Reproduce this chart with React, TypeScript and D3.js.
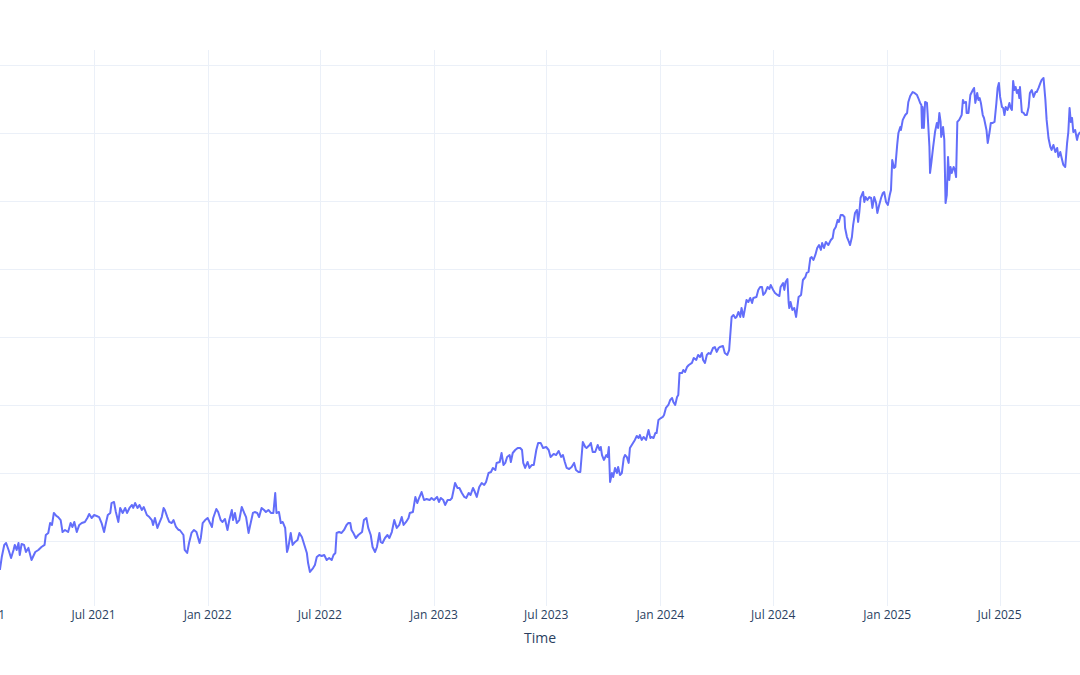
import React from "react";
import * as d3 from "d3";

// ---- data ----
const dates2021 = [
  "2021-01-31","2021-02-03","2021-02-07","2021-02-10","2021-02-14","2021-02-18","2021-02-22","2021-02-24","2021-02-27","2021-03-02",
  "2021-03-04","2021-03-07","2021-03-11","2021-03-14","2021-03-18","2021-03-23","2021-03-29","2021-04-03","2021-04-08","2021-04-13",
  "2021-04-15","2021-04-19","2021-04-22","2021-04-25","2021-04-28","2021-05-02","2021-05-05","2021-05-09","2021-05-12","2021-05-16",
  "2021-05-21","2021-05-25","2021-05-28","2021-05-31","2021-06-04","2021-06-08","2021-06-12","2021-06-17","2021-06-21","2021-06-24",
  "2021-06-28","2021-07-02","2021-07-06","2021-07-10","2021-07-14","2021-07-18","2021-07-21","2021-07-24","2021-07-28","2021-07-30",
  "2021-08-03","2021-08-06","2021-08-10","2021-08-13","2021-08-17","2021-08-21","2021-08-24","2021-08-28","2021-09-01","2021-09-03",
  "2021-09-06","2021-09-10","2021-09-13","2021-09-17","2021-09-20","2021-09-25","2021-09-29","2021-10-03","2021-10-05","2021-10-08",
  "2021-10-12","2021-10-15","2021-10-19","2021-10-22","2021-10-24","2021-10-28","2021-10-31","2021-11-04","2021-11-07","2021-11-11",
  "2021-11-15","2021-11-17","2021-11-23","2021-11-25","2021-11-29","2021-12-02","2021-12-06","2021-12-10","2021-12-14","2021-12-19",
  "2021-12-21","2021-12-24","2021-12-28"
];
const values2021 = [
  28.7,38.2,47.1,48.5,43.4,37.5,43.4,47.1,43.4,48.5,
  39.7,47.8,47.1,41.9,44.9,36.0,41.9,43.4,45.6,47.1,
  54.4,55.9,63.2,61.8,70.6,68.4,67.6,65.4,56.6,58.1,
  56.6,63.2,60.3,64.0,56.6,61.8,63.2,64.0,66.9,69.9,
  66.9,69.1,68.4,67.6,63.2,56.6,63.2,69.1,70.6,77.9,
  78.7,71.3,64.0,74.3,70.6,74.3,70.6,74.3,76.5,74.3,
  77.9,74.3,76.5,72.8,75.0,69.1,67.6,65.4,61.8,66.9,
  59.6,63.2,67.6,74.3,72.8,67.6,64.0,63.2,65.4,60.3,
  58.1,58.1,54.4,43.4,41.2,48.5,55.9,58.1,56.6,48.5,
  52.2,63.2,65.4
];

const dates2022 = [
  "2022-01-01","2022-01-04","2022-01-08","2022-01-10","2022-01-15","2022-01-18","2022-01-22","2022-01-25","2022-01-29","2022-02-02",
  "2022-02-05","2022-02-09","2022-02-11","2022-02-14","2022-02-17","2022-02-21","2022-02-25","2022-03-01","2022-03-04","2022-03-08",
  "2022-03-10","2022-03-15","2022-03-18","2022-03-22","2022-03-25","2022-03-29","2022-04-02","2022-04-05","2022-04-09","2022-04-13",
  "2022-04-17","2022-04-20","2022-04-22","2022-04-26","2022-04-29","2022-05-02","2022-05-06","2022-05-09","2022-05-11","2022-05-15",
  "2022-05-18","2022-05-22","2022-05-26","2022-05-29","2022-06-02","2022-06-06","2022-06-10","2022-06-12","2022-06-15","2022-06-20",
  "2022-06-23","2022-06-26","2022-06-30","2022-07-04","2022-07-08","2022-07-12","2022-07-16","2022-07-20","2022-07-23","2022-07-26",
  "2022-07-28","2022-08-01","2022-08-05","2022-08-09","2022-08-13","2022-08-16","2022-08-19","2022-08-21","2022-08-24","2022-08-28",
  "2022-09-01","2022-09-07","2022-09-10","2022-09-14","2022-09-17","2022-09-21","2022-09-24","2022-09-28","2022-10-01","2022-10-05",
  "2022-10-07","2022-10-10","2022-10-14","2022-10-18","2022-10-21","2022-10-25","2022-10-29","2022-11-02","2022-11-06","2022-11-10",
  "2022-11-13","2022-11-17","2022-11-21","2022-11-23","2022-11-28","2022-12-02","2022-12-05","2022-12-08","2022-12-12","2022-12-16",
  "2022-12-20","2022-12-25","2022-12-28"
];
const values2022 = [
  66.9,64.0,60.3,66.9,73.5,71.3,65.4,64.0,66.2,58.1,
  65.4,72.8,65.4,70.6,63.2,65.4,75.0,70.6,67.6,55.9,
  60.3,70.6,71.3,70.6,67.6,74.3,72.8,71.3,72.8,70.6,
  70.6,85.3,70.6,71.3,63.2,64.0,59.6,41.9,44.9,55.9,
  47.1,49.3,50.7,55.9,52.9,47.1,41.2,33.8,27.2,30.1,
  32.4,38.2,39.7,39.0,39.7,36.0,37.5,36.0,39.7,41.2,
  55.9,56.6,55.9,58.1,61.8,63.2,63.2,58.1,55.9,52.2,
  54.4,56.6,65.4,66.9,59.6,54.4,45.6,41.9,45.6,55.9,
  49.3,48.5,52.2,54.4,52.2,56.6,65.4,59.6,61.8,67.6,
  61.8,64.0,66.9,70.6,71.3,82.4,77.9,81.6,86.0,80.1,
  80.9,80.1,81.6
];

const dates2023 = [
  "2023-01-01","2023-01-06","2023-01-09","2023-01-12","2023-01-16","2023-01-19","2023-01-23","2023-01-27","2023-01-30","2023-02-04",
  "2023-02-08","2023-02-11","2023-02-15","2023-02-19","2023-02-22","2023-02-26","2023-03-01","2023-03-05","2023-03-08","2023-03-11",
  "2023-03-15","2023-03-19","2023-03-23","2023-03-26","2023-03-30","2023-04-03","2023-04-06","2023-04-10","2023-04-12","2023-04-17",
  "2023-04-20","2023-04-23","2023-04-26","2023-04-29","2023-05-03","2023-05-05","2023-05-08","2023-05-12","2023-05-16","2023-05-20",
  "2023-05-23","2023-05-25","2023-05-28","2023-06-01","2023-06-04","2023-06-08","2023-06-11","2023-06-15","2023-06-18","2023-06-22",
  "2023-06-26","2023-07-01","2023-07-05","2023-07-08","2023-07-13","2023-07-17","2023-07-21","2023-07-25","2023-07-28","2023-07-31",
  "2023-08-03","2023-08-07","2023-08-11","2023-08-15","2023-08-18","2023-08-22","2023-08-25","2023-08-29","2023-09-02","2023-09-04",
  "2023-09-09","2023-09-11","2023-09-14","2023-09-18","2023-09-22","2023-09-25","2023-09-27","2023-09-29","2023-10-02","2023-10-06",
  "2023-10-08","2023-10-10","2023-10-12","2023-10-15","2023-10-17","2023-10-20","2023-10-23","2023-10-25","2023-10-28","2023-10-31",
  "2023-11-03","2023-11-05","2023-11-08","2023-11-11","2023-11-13","2023-11-18","2023-11-21","2023-11-24","2023-11-27","2023-11-29",
  "2023-12-02","2023-12-05","2023-12-09","2023-12-13","2023-12-16","2023-12-18","2023-12-21","2023-12-24","2023-12-26","2023-12-29"
];
const values2023 = [
  80.1,82.4,78.7,81.6,80.1,76.5,80.1,80.1,81.6,92.6,
  89.0,89.0,85.3,82.4,81.6,85.3,83.8,89.0,86.0,82.4,
  89.7,92.6,91.2,93.4,100.0,100.7,103.7,102.2,107.4,108.1,
  114.7,105.9,107.4,111.8,113.2,108.1,114.7,116.9,118.4,118.4,
  116.9,107.4,103.7,108.1,103.7,105.9,105.9,116.9,122.1,122.1,
  118.4,119.1,116.9,111.8,114.0,113.2,116.2,111.8,113.2,108.1,
  103.7,102.9,104.4,107.4,102.2,100.7,100.7,122.8,119.1,118.4,
  120.6,122.1,115.4,115.4,120.6,116.9,119.1,113.2,109.6,113.2,
  111.8,119.1,93.4,100.0,97.1,103.7,100.0,104.4,98.5,100.0,
  111.0,113.2,111.8,107.4,118.4,122.1,124.3,127.2,125.7,127.9,
  124.3,126.5,124.3,131.6,125.7,126.5,125.7,129.4,129.4,139.0
];

const dates2024 = [
  "2024-01-02","2024-01-05","2024-01-07","2024-01-10","2024-01-14","2024-01-17","2024-01-20","2024-01-22","2024-01-25","2024-01-28",
  "2024-01-30","2024-02-01","2024-02-05","2024-02-07","2024-02-10","2024-02-13","2024-02-16","2024-02-21","2024-02-24","2024-02-28",
  "2024-03-02","2024-03-05","2024-03-08","2024-03-10","2024-03-13","2024-03-16","2024-03-19","2024-03-22","2024-03-26","2024-03-29",
  "2024-04-01","2024-04-04","2024-04-06","2024-04-11","2024-04-14","2024-04-18","2024-04-21","2024-04-25","2024-04-28","2024-05-01",
  "2024-05-03","2024-05-06","2024-05-09","2024-05-11","2024-05-14","2024-05-17","2024-05-19","2024-05-22","2024-05-25","2024-05-28",
  "2024-05-30","2024-06-04","2024-06-07","2024-06-10","2024-06-13","2024-06-15","2024-06-18","2024-06-22","2024-06-25","2024-06-27",
  "2024-07-01","2024-07-04","2024-07-08","2024-07-11","2024-07-13","2024-07-17","2024-07-19","2024-07-21","2024-07-24","2024-07-26",
  "2024-07-27","2024-07-29","2024-08-01","2024-08-04","2024-08-07","2024-08-09","2024-08-11","2024-08-15","2024-08-18","2024-08-22",
  "2024-08-24","2024-08-27","2024-08-30","2024-09-01","2024-09-04","2024-09-07","2024-09-10","2024-09-13","2024-09-16","2024-09-18",
  "2024-09-21","2024-09-24","2024-09-28","2024-10-02","2024-10-05","2024-10-07","2024-10-10","2024-10-13","2024-10-15","2024-10-18",
  "2024-10-21","2024-10-24","2024-10-25","2024-10-28","2024-10-30","2024-11-02","2024-11-05","2024-11-07","2024-11-10","2024-11-13",
  "2024-11-15","2024-11-17","2024-11-19","2024-11-23","2024-11-25","2024-11-27","2024-11-30","2024-12-03","2024-12-06","2024-12-08",
  "2024-12-11","2024-12-14","2024-12-16","2024-12-19","2024-12-22","2024-12-25","2024-12-27","2024-12-30"
];
const values2024 = [
  140.4,141.2,142.6,147.8,150.0,153.7,155.1,152.2,150.0,155.9,
  157.4,173.5,173.5,175.7,174.3,177.9,179.4,180.9,184.6,183.1,
  186.8,185.3,188.2,183.1,180.9,186.8,188.2,187.5,191.9,192.6,
  189.0,191.9,192.6,193.4,188.2,186.8,190.4,214.7,216.2,214.0,
  214.7,218.4,214.7,221.3,214.7,222.1,227.2,225.7,228.7,225.0,
  228.7,229.4,234.6,236.8,236.8,230.9,232.4,236.8,235.3,238.2,
  234.6,232.4,230.9,230.1,236.8,239.7,234.6,240.4,242.6,225.0,
  221.3,225.7,219.9,221.3,214.7,222.1,229.4,230.9,241.9,244.1,
  247.1,247.8,258.1,258.8,256.6,260.3,265.4,267.6,264.0,269.1,
  265.4,269.9,267.6,271.3,272.8,278.7,280.9,286.0,284.6,289.7,
  289.7,288.2,280.1,273.5,271.3,267.6,273.5,282.4,291.2,293.4,
  284.6,291.9,302.2,306.6,299.3,302.9,300.7,302.9,302.2,294.9,
  302.9,298.5,291.2,297.1,302.2,305.9,306.6,299.3
];

const dates2025 = [
  "2025-01-02","2025-01-05","2025-01-07","2025-01-09","2025-01-12","2025-01-14","2025-01-17","2025-01-19","2025-01-22","2025-01-23",
  "2025-01-26","2025-01-30","2025-02-02","2025-02-04","2025-02-07","2025-02-11","2025-02-14","2025-02-18","2025-02-20","2025-02-23",
  "2025-02-25","2025-02-26","2025-02-27","2025-03-01","2025-03-03","2025-03-06","2025-03-07","2025-03-10","2025-03-11","2025-03-13",
  "2025-03-16","2025-03-19","2025-03-22","2025-03-24","2025-03-26","2025-03-28","2025-03-29","2025-04-01","2025-04-03","2025-04-05",
  "2025-04-07","2025-04-09","2025-04-11","2025-04-13","2025-04-15","2025-04-18","2025-04-20","2025-04-22","2025-04-24","2025-04-27",
  "2025-05-01","2025-05-03","2025-05-05","2025-05-08","2025-05-09","2025-05-12","2025-05-15","2025-05-19","2025-05-21","2025-05-23",
  "2025-05-26","2025-05-28","2025-05-30","2025-06-01","2025-06-04","2025-06-06","2025-06-10","2025-06-12","2025-06-15","2025-06-17",
  "2025-06-20","2025-06-23","2025-06-26","2025-06-28","2025-06-30","2025-07-02","2025-07-05","2025-07-07","2025-07-09","2025-07-11",
  "2025-07-14","2025-07-17","2025-07-19","2025-07-21","2025-07-23","2025-07-25","2025-07-27","2025-07-29","2025-07-31","2025-08-02",
  "2025-08-03","2025-08-06","2025-08-09","2025-08-11","2025-08-14","2025-08-17","2025-08-19","2025-08-22","2025-08-25","2025-08-28",
  "2025-08-30","2025-09-02","2025-09-05","2025-09-07","2025-09-10","2025-09-13","2025-09-15","2025-09-18","2025-09-21","2025-09-23",
  "2025-09-26","2025-09-29","2025-10-02","2025-10-04","2025-10-07","2025-10-10","2025-10-12","2025-10-15","2025-10-18","2025-10-20",
  "2025-10-22","2025-10-24","2025-10-26","2025-10-28","2025-10-31","2025-11-03","2025-11-05","2025-11-08"
];
const values2025 = [
  297.1,304.4,308.1,330.1,324.3,325.0,341.2,350.0,354.4,352.2,
  359.6,363.2,364.7,372.8,377.2,380.1,379.4,377.9,375.7,372.1,
  370.6,353.7,369.1,353.7,372.8,372.1,364.7,339.7,320.6,327.9,
  339.7,350.7,357.4,353.7,364.7,358.1,347.1,354.4,344.9,298.5,
  304.4,332.4,315.4,325.0,320.6,325.0,322.8,317.6,358.1,359.6,
  363.2,374.3,372.1,372.8,364.7,364.7,377.9,381.6,383.1,372.1,
  379.4,374.3,375.7,372.1,363.2,361.0,352.2,342.6,350.7,357.4,
  357.4,358.1,372.1,383.1,386.8,376.5,369.1,368.4,363.2,369.1,
  366.9,372.1,368.4,366.9,388.2,381.6,383.8,379.4,381.6,375.7,
  383.8,365.4,364.7,363.2,363.2,369.1,379.4,381.6,376.5,380.1,
  380.1,383.1,386.8,389.0,390.4,374.3,359.6,346.3,339.7,337.5,
  341.2,336.0,339.0,332.4,336.0,330.1,326.5,325.0,342.6,350.7,
  368.4,358.1,361.0,350.7,352.2,344.9,348.6,350.7
];

const yGridValues = [50, 100, 150, 200, 250, 300, 350, 400];
const xAxisTitle = "Time";

// ---- layout ----
const W = 1080;
const H = 675;
const plotTop = 50;
const plotBottom = 606;
const COLORS = { line: "#636efa", grid: "#EBF0F8", text: "#2a3f5f" };

const allDates = [...dates2021, ...dates2022, ...dates2023, ...dates2024, ...dates2025];
const allValues = [...values2021, ...values2022, ...values2023, ...values2024, ...values2025];
const parse = d3.utcParse("%Y-%m-%d");
const series = allDates.map((d, i) => ({ date: parse(d) as Date, value: allValues[i] }));

export default function App() {
  const x = d3
    .scaleUtc()
    .domain([new Date(Date.UTC(2021, 0, 1)), new Date(Date.UTC(2025, 6, 1))])
    .range([-18.7, 999.5]);
  const y = d3.scaleLinear().domain([2.2, 411]).range([plotBottom, plotTop]);

  const line = d3
    .line<{ date: Date; value: number }>()
    .x((d) => x(d.date))
    .y((d) => y(d.value));

  const xTicks = d3.utcMonth.every(6)!.range(new Date(Date.UTC(2021, 0, 1)), new Date(Date.UTC(2025, 7, 1)));
  const fmt = d3.utcFormat("%b %Y");

  return (
    <svg
      width={W}
      height={H}
      style={{ position: "absolute", left: 0, top: 0, display: "block", background: "#fff" }}
      fontFamily='"Open Sans", Verdana, Arial, sans-serif'
    >
      <rect x={0} y={0} width={W} height={H} fill="#fff" />
      <g>
        {yGridValues.map((v) => (
          <line key={"h" + v} x1={0} x2={W} y1={Math.round(y(v)) + 0.5} y2={Math.round(y(v)) + 0.5} stroke={COLORS.grid} strokeWidth={1} />
        ))}
        {xTicks.map((t) => (
          <line
            key={"v" + t.getTime()}
            x1={Math.round(x(t)) + 0.5}
            x2={Math.round(x(t)) + 0.5}
            y1={plotTop}
            y2={plotBottom}
            stroke={COLORS.grid}
            strokeWidth={1}
          />
        ))}
      </g>
      <path d={line(series) || ""} fill="none" stroke={COLORS.line} strokeWidth={2} strokeLinejoin="round" />
      <g>
        {xTicks.map((t) => (
          <text key={"t" + t.getTime()} x={x(t)} y={619} textAnchor="middle" fontSize={12} fill={COLORS.text}>
            {fmt(t)}
          </text>
        ))}
      </g>
      <text x={540} y={643} textAnchor="middle" fontSize={14} fill={COLORS.text}>
        {xAxisTitle}
      </text>
    </svg>
  );
}
